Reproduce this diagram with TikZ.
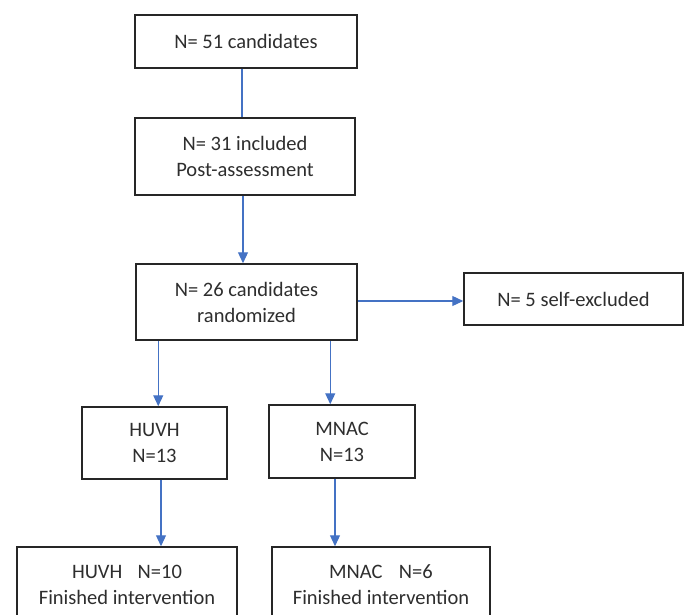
\documentclass[tikz,border=0pt]{standalone}
\usepackage{fontspec}
\setmainfont{Carlito}
\usetikzlibrary{arrows.meta}
\definecolor{lineblue}{HTML}{4472C4}
\definecolor{boxline}{HTML}{262626}
\definecolor{txt}{HTML}{2E2E2E}
\tikzset{
  box/.style={draw=boxline, line width=1.5pt, fill=white, align=center, inner sep=0pt,
    text=txt, font=\fontsize{20.5}{26}\selectfont},
  link/.style={draw=lineblue, line width=1.2pt},
  arr/.style={link, -{Triangle[length=11pt,width=10pt]}},
}
\begin{document}
\begin{tikzpicture}[x=1pt,y=-1pt]
\useasboundingbox (0,0) rectangle (691,615);
\clip (0,0) rectangle (691,615);
\node[box, minimum width=222pt, minimum height=53pt] (b1) at (246,41.5) {N= 51 candidates};
\node[box, minimum width=220pt, minimum height=77pt] (b2) at (245,156.5) {N= 31 included\\Post-assessment};
\node[box, minimum width=221pt, minimum height=76pt] (b3) at (246.5,302) {N= 26 candidates\\randomized};
\node[box, minimum width=219pt, minimum height=52pt] (b4) at (573.5,299) {N= 5 self-excluded};
\node[box, minimum width=145pt, minimum height=72pt] (huvh) at (154.5,443) {HUVH\\N=13};
\node[box, minimum width=146pt, minimum height=73pt] (mnac) at (342,441.5) {MNAC\\N=13};
\node[box, minimum width=220pt, minimum height=76pt] (fin1) at (127,585) {HUVH\hspace{0.75em}N=10\\Finished intervention};
\node[box, minimum width=218pt, minimum height=76pt] (fin2) at (381,585) {MNAC\hspace{0.8em}N=6\\Finished intervention};

\draw[link] ([xshift=-4pt]b1.south) -- ([xshift=-4pt]b1.south |- b2.north);
\draw[arr] ([xshift=-2pt]b2.south) -- ([xshift=-2pt]b2.south |- b3.north);
\draw[arr] ([yshift=1pt]b3.east) -- ([yshift=1pt]b3.east -| b4.west);
\draw[arr] ([xshift=23pt]b3.south west) -- ([xshift=23pt]b3.south west |- huvh.north);
\draw[arr] ([xshift=195pt]b3.south west) -- ([xshift=195pt]b3.south west |- mnac.north);
\draw[arr] ([xshift=6.5pt]huvh.south) -- ([xshift=6.5pt]huvh.south |- fin1.north);
\draw[arr] ([xshift=-7pt]mnac.south) -- ([xshift=-7pt]mnac.south |- fin2.north);
\end{tikzpicture}
\end{document}
